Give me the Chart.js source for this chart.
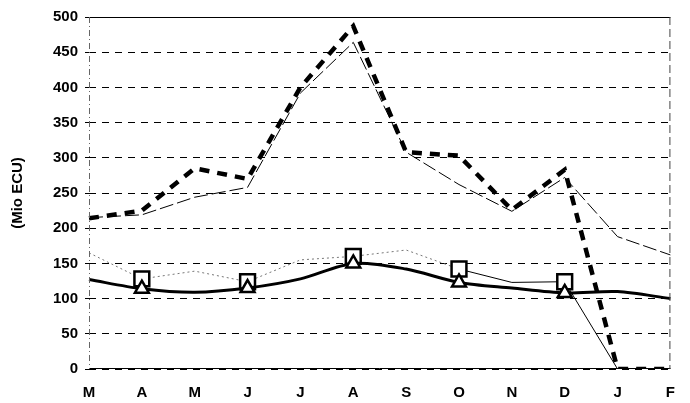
<!DOCTYPE html>
<html>
<head>
<meta charset="utf-8">
<script src="https://cdn.jsdelivr.net/npm/chart.js"></script>
<style>
  html, body { margin: 0; padding: 0; background: #fff; }
  #wrap { width: 690px; height: 403px; }
</style>
</head>
<body>
<div id="wrap"><canvas id="chart" width="690" height="403"></canvas></div>
<script>
const months = ['M', 'A', 'M', 'J', 'J', 'A', 'S', 'O', 'N', 'D', 'J', 'F'];
const thickDashed = [214, 225, 285, 270, 400, 487, 308, 303, 226, 283, 0, 0];
const thinDashed = [215, 219, 244, 258, 392, 464, 308, 262, 224, 272, 188, 162];
const squareLine = [165, 128, 139, 124, 155, 160, 169, 142, 123, 124, 0, 0];
const triangleLine = [127, 114, 109, 115, 128, 150, 142, 123, 115, 108, 110, 100];
const yTicks = [0, 50, 100, 150, 200, 250, 300, 350, 400, 450, 500];

// markers only every second month
const markerRadius = (size) => months.map((m, i) => (i % 2 === 1 && i < 10) ? size : 0);

const font = { family: '"Liberation Sans", Arial, sans-serif', size: 15, weight: 'bold' };

// frame lines around the plot area
const framePlugin = {
    id: 'frame',
    afterDatasetsDraw(chart) {
        const a = chart.chartArea;
        const ctx = chart.ctx;
        ctx.save();
        ctx.strokeStyle = '#000';
        ctx.lineWidth = 1;
        ctx.beginPath();
        ctx.moveTo(a.left, a.top + 0.5);
        ctx.lineTo(a.right, a.top + 0.5);
        ctx.moveTo(a.left, a.bottom - 0.5);
        ctx.lineTo(a.right, a.bottom - 0.5);
        ctx.stroke();
        ctx.setLineDash([8, 4]);
        ctx.strokeStyle = '#444';
        ctx.beginPath();
        ctx.moveTo(a.right - 0.5, a.top);
        ctx.lineTo(a.right - 0.5, a.bottom);
        ctx.stroke();
        ctx.setLineDash([6, 3, 1, 3]);
        ctx.strokeStyle = '#666';
        ctx.beginPath();
        ctx.moveTo(a.left + 0.5, a.top);
        ctx.lineTo(a.left + 0.5, a.bottom);
        ctx.stroke();
        ctx.restore();
    }
};

const data = {
    labels: months,
    datasets: [
        {
            label: 'triangles',
            data: triangleLine,
            borderColor: '#000',
            borderWidth: 3,
            tension: 0.3,
            pointStyle: 'triangle',
            pointRadius: markerRadius(8),
            pointBackgroundColor: '#fff',
            pointBorderColor: '#000',
            pointBorderWidth: 2.5,
            order: 0
        },
        {
            label: 'squares',
            data: squareLine,
            borderColor: '#000',
            borderWidth: 1,
            tension: 0,
            segment: {
                borderDash: ctx => ctx.p0DataIndex < 7 ? [2, 3] : [],
                borderColor: ctx => ctx.p0DataIndex < 7 ? '#777' : '#000'
            },
            pointStyle: 'rect',
            pointRadius: markerRadius(10.5),
            pointBackgroundColor: '#fff',
            pointBorderColor: '#000',
            pointBorderWidth: 2.5,
            order: 1
        },
        {
            label: 'thick dashed',
            data: thickDashed,
            borderColor: '#000',
            borderWidth: 4.5,
            borderDash: [10, 8],
            tension: 0,
            pointRadius: 0,
            order: 2
        },
        {
            label: 'thin dashed',
            data: thinDashed,
            borderColor: '#000',
            borderWidth: 1,
            borderDash: [14, 4],
            tension: 0,
            pointRadius: 0,
            order: 3
        }
    ]
};

const config = {
    type: 'line',
    data: data,
    plugins: [framePlugin],
    options: {
        responsive: false,
        animation: false,
        layout: { padding: { left: 0, right: 17, top: 17, bottom: 0 } },
        plugins: {
            legend: { display: false },
            tooltip: { enabled: false }
        },
        scales: {
            x: {
                offset: false,
                grid: { display: false, drawTicks: false },
                border: { display: false },
                ticks: { color: '#000', font: font, padding: 15, maxRotation: 0, autoSkip: false },
                afterFit: scale => { scale.height = 34; }
            },
            y: {
                min: 0,
                max: 500,
                afterBuildTicks: scale => { scale.ticks = yTicks.map(v => ({ value: v })); },
                grid: { color: '#000', lineWidth: 1, drawTicks: true, tickLength: 4 },
                border: { display: false, dash: [7, 6] },
                ticks: { color: '#000', font: font, padding: 7 },
                title: {
                    display: true,
                    text: '(Mio ECU)',
                    color: '#000',
                    font: font,
                    padding: { top: 9, bottom: 0 }
                },
                afterFit: scale => { scale.width = 89; }
            }
        }
    }
};

const myChart = new Chart(document.getElementById('chart'), config);
</script>
</body>
</html>
